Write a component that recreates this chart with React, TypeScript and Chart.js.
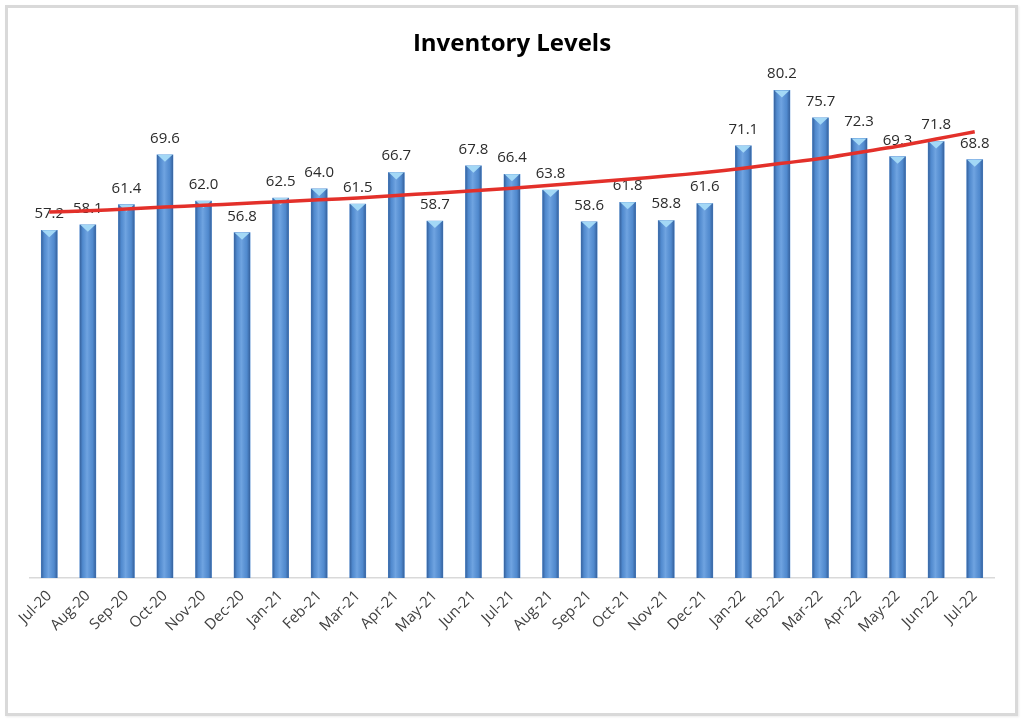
import React, { useEffect, useRef } from "react";
import { Chart, registerables } from "chart.js";

Chart.register(...registerables);

const categories = [
  "Jul-20", "Aug-20", "Sep-20", "Oct-20", "Nov-20", "Dec-20",
  "Jan-21", "Feb-21", "Mar-21", "Apr-21", "May-21", "Jun-21",
  "Jul-21", "Aug-21", "Sep-21", "Oct-21", "Nov-21", "Dec-21",
  "Jan-22", "Feb-22", "Mar-22", "Apr-22", "May-22", "Jun-22", "Jul-22",
];

const inventoryValues = [
  57.2, 58.1, 61.4, 69.6, 62.0, 56.8,
  62.5, 64.0, 61.5, 66.7, 58.7, 67.8,
  66.4, 63.8, 58.6, 61.8, 58.8, 61.6,
  71.1, 80.2, 75.7, 72.3, 69.3, 71.8, 68.8,
];

// trend line
const trendValues = [
  60.2, 60.4, 60.7, 61.0, 61.3, 61.6,
  61.9, 62.2, 62.5, 62.9, 63.3, 63.7,
  64.1, 64.6, 65.1, 65.6, 66.1, 66.7,
  67.4, 68.2, 69.0, 70.0, 71.0, 72.2, 73.4,
];

const FONT = "'Open Sans', 'DejaVu Sans', sans-serif";

const barStyle = {
  id: "barStyle",
  afterDatasetDraw(chart: any, args: any) {
    if (args.index !== 0) return;
    const ctx = chart.ctx as CanvasRenderingContext2D;
    const meta = chart.getDatasetMeta(0);
    ctx.save();
    meta.data.forEach((el: any, i: number) => {
      const { x, y, base, width } = el.getProps(["x", "y", "base", "width"], true);
      const l = x - width / 2;
      const r = x + width / 2;
      const g = ctx.createLinearGradient(l, 0, r, 0);
      g.addColorStop(0, "rgba(25,55,105,0.55)");
      g.addColorStop(0.18, "rgba(25,55,105,0.12)");
      g.addColorStop(0.45, "rgba(255,255,255,0.14)");
      g.addColorStop(0.8, "rgba(25,55,105,0.12)");
      g.addColorStop(1, "rgba(25,55,105,0.55)");
      ctx.fillStyle = g;
      ctx.fillRect(l, y, width, base - y);
      // top cap
      ctx.beginPath();
      ctx.moveTo(l + 0.5, y);
      ctx.lineTo(r - 0.5, y);
      ctx.lineTo(x, y + 7);
      ctx.closePath();
      ctx.fillStyle = "#a3d8f6";
      ctx.fill();
      // value label
      ctx.fillStyle = "#2b2b2b";
      ctx.font = `15px ${FONT}`;
      ctx.textAlign = "center";
      ctx.textBaseline = "alphabetic";
      ctx.fillText(inventoryValues[i].toFixed(1), x, y - 12);
    });
    ctx.restore();
  },
};

export default function App() {
  const ref = useRef<HTMLCanvasElement>(null);

  useEffect(() => {
    if (!ref.current) return;
    const chart = new Chart(ref.current, {
      type: "bar",
      data: {
        labels: categories,
        datasets: [
          {
            type: "bar",
            label: "Inventory",
            data: inventoryValues,
            backgroundColor: "#5895dc",
            borderWidth: 0,
            barThickness: 16,
            order: 1,
          } as any,
          {
            type: "line",
            label: "Trend",
            data: trendValues,
            borderColor: "#e3302a",
            borderWidth: 3.5,
            pointRadius: 0,
            tension: 0.4,
            fill: false,
            order: 0,
          } as any,
        ],
      },
      options: {
        animation: false,
        responsive: false,
        devicePixelRatio: 1,
        layout: { padding: { left: 30, right: 30, top: 10, bottom: 74 } },
        plugins: {
          legend: { display: false },
          tooltip: { enabled: false },
          title: {
            display: true,
            text: "Inventory Levels",
            color: "#000",
            font: { family: FONT, size: 24, weight: "bold" },
            padding: { top: 19.6, bottom: 2.8 },
          },
        },
        scales: {
          x: {
            grid: { display: false, drawTicks: false },
            border: { display: true, color: "#d9d9d9", width: 1.5 },
            ticks: {
              color: "#404040",
              font: { family: FONT, size: 15 },
              maxRotation: 45,
              minRotation: 45,
              autoSkip: false,
              padding: 9,
            },
            afterFit: (scale: any) => {
              scale.height = 70;
            },
          },
          y: {
            display: false,
            min: 0,
            max: 85,
          },
        },
      },
      plugins: [barStyle],
    });
    return () => chart.destroy();
  }, []);

  return (
    <div style={{ position: "fixed", left: 0, top: 0, width: 1024, height: 722, background: "#fff" }}>
      <div
        style={{
          position: "absolute",
          left: 5,
          top: 5,
          width: 1013,
          height: 711,
          boxSizing: "border-box",
          border: "3px solid #d9d9d9",
          boxShadow: "1px 1px 2px rgba(0,0,0,0.08)",
        }}
      />
      <canvas ref={ref} width={1024} height={722} style={{ position: "absolute", left: 0, top: 0 }} />
    </div>
  );
}
